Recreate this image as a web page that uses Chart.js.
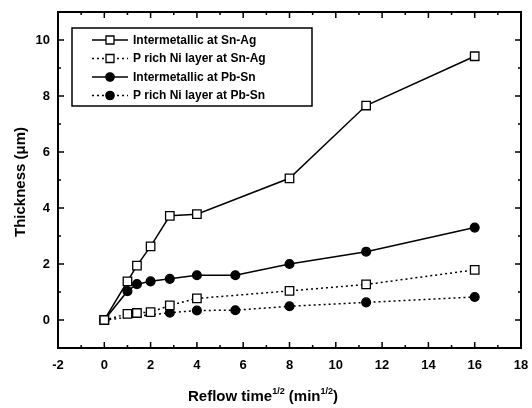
<!DOCTYPE html>
<html lang="en">
<head>
    <meta charset="UTF-8">
    <title>Thickness vs reflow time</title>
    <style>
        html, body { margin: 0; padding: 0; background: #ffffff; }
        #wrap { width: 532px; height: 408px; position: relative; }
    </style>
</head>
<body>
    <div id="wrap"><canvas id="chart" width="532" height="408"></canvas></div>
    <script src="https://cdn.jsdelivr.net/npm/chart.js@4.4.1/dist/chart.umd.min.js"></script>
    <script>
        // sqrt(reflow time) values and thickness readings (um)
        const xSnAg = [0, 1, 1.41, 2, 2.83, 4, 8, 11.31, 16];
        const imcSnAg = [0, 1.38, 1.94, 2.63, 3.72, 3.78, 5.06, 7.66, 9.42];
        const pNiSnAg = [0, 0.22, 0.25, 0.28, 0.52, 0.77, 1.04, 1.27, 1.79];
        const xPbSn = [0, 1, 1.41, 2, 2.83, 4, 5.66, 8, 11.31, 16];
        const imcPbSn = [0, 1.03, 1.28, 1.38, 1.47, 1.6, 1.6, 2.0, 2.44, 3.3];
        const xPNiPbSn = [0, 2.83, 4, 5.66, 8, 11.31, 16];
        const pNiPbSn = [0, 0.26, 0.34, 0.35, 0.49, 0.63, 0.82];

        const xTicks = [-2, 0, 2, 4, 6, 8, 10, 12, 14, 16, 18];
        const yTicks = [0, 2, 4, 6, 8, 10];

        const seriesNames = [
            'Intermetallic at Sn-Ag',
            'P rich Ni layer at Sn-Ag',
            'Intermetallic at Pb-Sn',
            'P rich Ni layer at Pb-Sn'
        ];

        function pts(xs, ys) {
            return xs.map(function (x, i) { return { x: x, y: ys[i] }; });
        }

        const FONT = '"Liberation Sans", Arial, sans-serif';
        const DOT = [2, 3];

        const styles = [
            { style: 'rect', fill: '#ffffff', dash: [] },
            { style: 'rect', fill: '#ffffff', dash: DOT },
            { style: 'circle', fill: '#000000', dash: [] },
            { style: 'circle', fill: '#000000', dash: DOT }
        ];

        function makeSet(i, data) {
            var s = styles[i];
            return {
                label: seriesNames[i],
                data: data,
                showLine: true,
                borderColor: '#000000',
                borderWidth: 1.5,
                borderDash: s.dash,
                pointStyle: s.style,
                pointRadius: s.style === 'rect' ? 6 : 4.4,
                pointBackgroundColor: s.fill,
                pointBorderColor: '#000000',
                pointBorderWidth: 1.3
            };
        }

        // inward ticks on all four sides, frame, legend and axis titles
        const framePlugin = {
            id: 'frame',
            afterDraw: function (chart) {
                var ctx = chart.ctx;
                var a = chart.chartArea;
                var xs = chart.scales.x, ys = chart.scales.y;
                ctx.save();
                ctx.strokeStyle = '#000';
                ctx.lineWidth = 2;
                ctx.strokeRect(a.left, a.top, a.right - a.left, a.bottom - a.top);
                ctx.lineWidth = 1.5;
                ctx.beginPath();
                for (var v = -2; v <= 18; v += 1) {
                    var px = xs.getPixelForValue(v);
                    var len = (v % 2 === 0) ? 6 : 3;
                    ctx.moveTo(px, a.bottom); ctx.lineTo(px, a.bottom - len);
                    ctx.moveTo(px, a.top); ctx.lineTo(px, a.top + len);
                }
                for (var w = -1; w <= 11; w += 1) {
                    var py = ys.getPixelForValue(w);
                    var l2 = (w % 2 === 0) ? 6 : 3;
                    ctx.moveTo(a.left, py); ctx.lineTo(a.left + l2, py);
                    ctx.moveTo(a.right, py); ctx.lineTo(a.right - l2, py);
                }
                ctx.stroke();

                // legend
                var bx = 72, by = 28, bw = 240, bh = 78;
                ctx.fillStyle = '#fff';
                ctx.fillRect(bx, by, bw, bh);
                ctx.lineWidth = 1.5;
                ctx.strokeRect(bx, by, bw, bh);
                ctx.font = 'bold 12px ' + FONT;
                ctx.textBaseline = 'middle';
                ctx.textAlign = 'left';
                for (var i = 0; i < 4; i++) {
                    var ry = 40 + i * 18.5;
                    var s = styles[i];
                    ctx.setLineDash(s.dash);
                    ctx.lineWidth = 1.5;
                    ctx.beginPath();
                    ctx.moveTo(92, ry); ctx.lineTo(128, ry);
                    ctx.stroke();
                    ctx.setLineDash([]);
                    ctx.lineWidth = 1.3;
                    ctx.fillStyle = s.fill;
                    ctx.beginPath();
                    if (s.style === 'rect') {
                        ctx.rect(106, ry - 4, 8, 8);
                    } else {
                        ctx.arc(110, ry, 4.2, 0, Math.PI * 2);
                    }
                    ctx.fill();
                    ctx.stroke();
                    ctx.fillStyle = '#000';
                    ctx.fillText(seriesNames[i], 133, ry + 0.5);
                }

                // y title
                ctx.save();
                ctx.translate(21, 182);
                ctx.rotate(-Math.PI / 2);
                ctx.textAlign = 'center';
                ctx.textBaseline = 'middle';
                ctx.font = 'bold 15px ' + FONT;
                ctx.fillStyle = '#000';
                ctx.fillText('Thickness (\u03bcm)', 0, 0);
                ctx.restore();

                // x title with superscripts
                var parts = [
                    ['Reflow time', 15, 0],
                    ['1/2', 9, -7],
                    [' (min', 15, 0],
                    ['1/2', 9, -7],
                    [')', 15, 0]
                ];
                var tx = 188, base = 401;
                ctx.textAlign = 'left';
                ctx.textBaseline = 'alphabetic';
                ctx.fillStyle = '#000';
                parts.forEach(function (p) {
                    ctx.font = 'bold ' + p[1] + 'px ' + FONT;
                    ctx.fillText(p[0], tx, base + p[2]);
                    tx += ctx.measureText(p[0]).width;
                });
                ctx.restore();
            }
        };

        new Chart(document.getElementById('chart').getContext('2d'), {
            type: 'scatter',
            data: {
                datasets: [
                    makeSet(0, pts(xSnAg, imcSnAg)),
                    makeSet(1, pts(xSnAg, pNiSnAg)),
                    makeSet(2, pts(xPbSn, imcPbSn)),
                    makeSet(3, pts(xPNiPbSn, pNiPbSn))
                ]
            },
            options: {
                responsive: false,
                animation: false,
                layout: { padding: { left: 0, right: 11, top: 12, bottom: 0 } },
                plugins: { legend: { display: false }, tooltip: { enabled: false } },
                scales: {
                    x: {
                        type: 'linear',
                        min: -2, max: 18,
                        afterBuildTicks: function (s) { s.ticks = xTicks.map(function (v) { return { value: v }; }); },
                        afterFit: function (s) { s.height = 60; s.paddingLeft = 0; s.paddingRight = 0; },
                        grid: { display: false, drawTicks: false },
                        border: { display: false },
                        ticks: { color: '#000', padding: 10, maxRotation: 0, font: { family: FONT, size: 13, weight: 'bold' } }
                    },
                    y: {
                        type: 'linear',
                        min: -1, max: 11,
                        afterBuildTicks: function (s) { s.ticks = yTicks.map(function (v) { return { value: v }; }); },
                        afterFit: function (s) { s.width = 58; s.paddingTop = 0; s.paddingBottom = 0; },
                        grid: { display: false, drawTicks: false },
                        border: { display: false },
                        ticks: { color: '#000', padding: 8, font: { family: FONT, size: 13, weight: 'bold' } }
                    }
                }
            },
            plugins: [framePlugin]
        });
    </script>
</body>
</html>
